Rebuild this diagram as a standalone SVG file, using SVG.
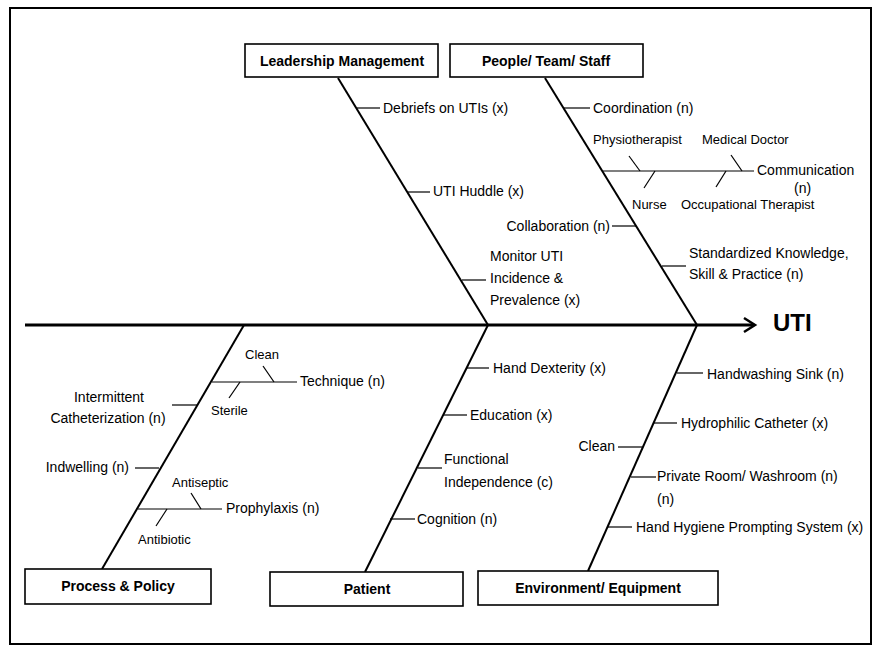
<svg xmlns="http://www.w3.org/2000/svg" width="876" height="646" viewBox="0 0 876 646">
<style>
  text { font-family: "Liberation Sans", Arial, sans-serif; fill: #000; }
  .lbl { font-size: 14px; }
  .sm { font-size: 13px; }
  .box rect { fill: #fff; stroke: #000; stroke-width: 1.6; }
  .box text { font-size: 14px; font-weight: bold; text-anchor: middle; }
  .bone { stroke: #000; stroke-width: 2; fill: none; }
  .tick { stroke: #000; stroke-width: 1.2; fill: none; }
  .end { text-anchor: end; }
  .mid { text-anchor: middle; }
</style>
<rect x="0" y="0" width="876" height="646" fill="#fff"/>
<rect x="10" y="8" width="861" height="636" fill="none" stroke="#000" stroke-width="2"/>

<g id="connectors">
  <!-- spine -->
  <line x1="25" y1="325" x2="754" y2="325" stroke="#000" stroke-width="3"/>
  <polyline points="744,318 755,325 744,332" fill="none" stroke="#000" stroke-width="2.5"/>
  <!-- main bones -->
  <line class="bone" x1="338" y1="78" x2="488" y2="325"/>
  <line class="bone" x1="545" y1="78" x2="697" y2="325"/>
  <line class="bone" x1="244" y1="325" x2="102" y2="569"/>
  <line class="bone" x1="488" y1="325" x2="365" y2="572"/>
  <line class="bone" x1="697" y1="325" x2="588" y2="571"/>
  <!-- leadership ticks -->
  <line class="tick" x1="357" y1="108" x2="380" y2="108"/>
  <line class="tick" x1="408" y1="192" x2="430" y2="192"/>
  <line class="tick" x1="462" y1="280" x2="486" y2="280"/>
  <!-- people ticks -->
  <line class="tick" x1="564" y1="108" x2="590" y2="108"/>
  <line class="tick" x1="603" y1="171" x2="754" y2="171"/>
  <line class="tick" x1="629" y1="156" x2="640" y2="171"/>
  <line class="tick" x1="731" y1="155" x2="742" y2="171"/>
  <line class="tick" x1="655" y1="171" x2="644" y2="188"/>
  <line class="tick" x1="726" y1="171" x2="716" y2="187"/>
  <line class="tick" x1="612" y1="226" x2="636" y2="226"/>
  <line class="tick" x1="662" y1="266" x2="686" y2="266"/>
  <!-- process ticks -->
  <line class="tick" x1="212" y1="382" x2="297" y2="382"/>
  <line class="tick" x1="263" y1="366" x2="274" y2="382"/>
  <line class="tick" x1="240" y1="382" x2="229" y2="398"/>
  <line class="tick" x1="172" y1="405" x2="197" y2="405"/>
  <line class="tick" x1="135" y1="468" x2="159" y2="468"/>
  <line class="tick" x1="138" y1="509" x2="222" y2="509"/>
  <line class="tick" x1="191" y1="493" x2="201" y2="509"/>
  <line class="tick" x1="167" y1="509" x2="156" y2="526"/>
  <!-- patient ticks -->
  <line class="tick" x1="467" y1="368" x2="489" y2="368"/>
  <line class="tick" x1="443" y1="415" x2="467" y2="415"/>
  <line class="tick" x1="418" y1="468" x2="442" y2="468"/>
  <line class="tick" x1="390" y1="519" x2="415" y2="519"/>
  <!-- environment ticks -->
  <line class="tick" x1="677" y1="373" x2="703" y2="373"/>
  <line class="tick" x1="653" y1="423" x2="677" y2="423"/>
  <line class="tick" x1="618" y1="447" x2="642" y2="447"/>
  <line class="tick" x1="631" y1="477" x2="656" y2="477"/>
  <line class="tick" x1="607" y1="527" x2="632" y2="527"/>
</g>

<g id="leadership" class="box">
  <rect x="245" y="44" width="193" height="33"/>
  <text x="342" y="66">Leadership Management</text>
</g>
<g id="people" class="box">
  <rect x="450" y="44" width="193" height="33"/>
  <text x="546" y="66">People/ Team/ Staff</text>
</g>
<g id="process" class="box">
  <rect x="25" y="569" width="186" height="35"/>
  <text x="118" y="591">Process &amp; Policy</text>
</g>
<g id="patient" class="box">
  <rect x="270" y="572" width="193" height="34"/>
  <text x="367" y="594">Patient</text>
</g>
<g id="environment" class="box">
  <rect x="478" y="571" width="240" height="34"/>
  <text x="598" y="593">Environment/ Equipment</text>
</g>
<g id="uti">
  <text x="773" y="331" font-size="24" font-weight="bold">UTI</text>
</g>

<g id="leadership-causes">
  <text class="lbl" x="383" y="113">Debriefs on UTIs (x)</text>
  <text class="lbl" x="433" y="196">UTI Huddle (x)</text>
  <text class="lbl" x="490" y="261">Monitor UTI</text>
  <text class="lbl" x="490" y="283">Incidence &amp;</text>
  <text class="lbl" x="490" y="305">Prevalence (x)</text>
</g>
<g id="people-causes">
  <text class="lbl" x="593" y="113">Coordination (n)</text>
  <text class="sm" x="593" y="144">Physiotherapist</text>
  <text class="sm" x="702" y="144">Medical Doctor</text>
  <text class="lbl" x="757" y="175">Communication</text>
  <text class="lbl" x="794" y="193">(n)</text>
  <text class="sm" x="632" y="209">Nurse</text>
  <text class="sm" x="681" y="209">Occupational Therapist</text>
  <text class="lbl end" x="610" y="231">Collaboration (n)</text>
  <text class="lbl" x="689" y="258">Standardized Knowledge,</text>
  <text class="lbl" x="689" y="279">Skill &amp; Practice (n)</text>
</g>
<g id="process-causes">
  <text class="sm" x="245" y="359">Clean</text>
  <text class="lbl" x="300" y="386">Technique (n)</text>
  <text class="sm" x="211" y="415">Sterile</text>
  <text class="lbl mid" x="109" y="402">Intermittent</text>
  <text class="lbl mid" x="108" y="423">Catheterization (n)</text>
  <text class="lbl end" x="129" y="472">Indwelling (n)</text>
  <text class="sm" x="172" y="487">Antiseptic</text>
  <text class="lbl" x="226" y="513">Prophylaxis (n)</text>
  <text class="sm" x="138" y="544">Antibiotic</text>
</g>
<g id="patient-causes">
  <text class="lbl" x="493" y="373">Hand Dexterity (x)</text>
  <text class="lbl" x="470" y="420">Education (x)</text>
  <text class="lbl" x="444" y="464">Functional</text>
  <text class="lbl" x="444" y="487">Independence (c)</text>
  <text class="lbl" x="417" y="524">Cognition (n)</text>
</g>
<g id="environment-causes">
  <text class="lbl" x="707" y="379">Handwashing Sink (n)</text>
  <text class="lbl" x="681" y="428">Hydrophilic Catheter (x)</text>
  <text class="lbl end" x="615" y="451">Clean</text>
  <text class="lbl" x="657" y="481">Private Room/ Washroom (n)</text>
  <text class="lbl" x="657" y="504">(n)</text>
  <text class="lbl" x="636" y="532">Hand Hygiene Prompting System (x)</text>
</g>
</svg>
